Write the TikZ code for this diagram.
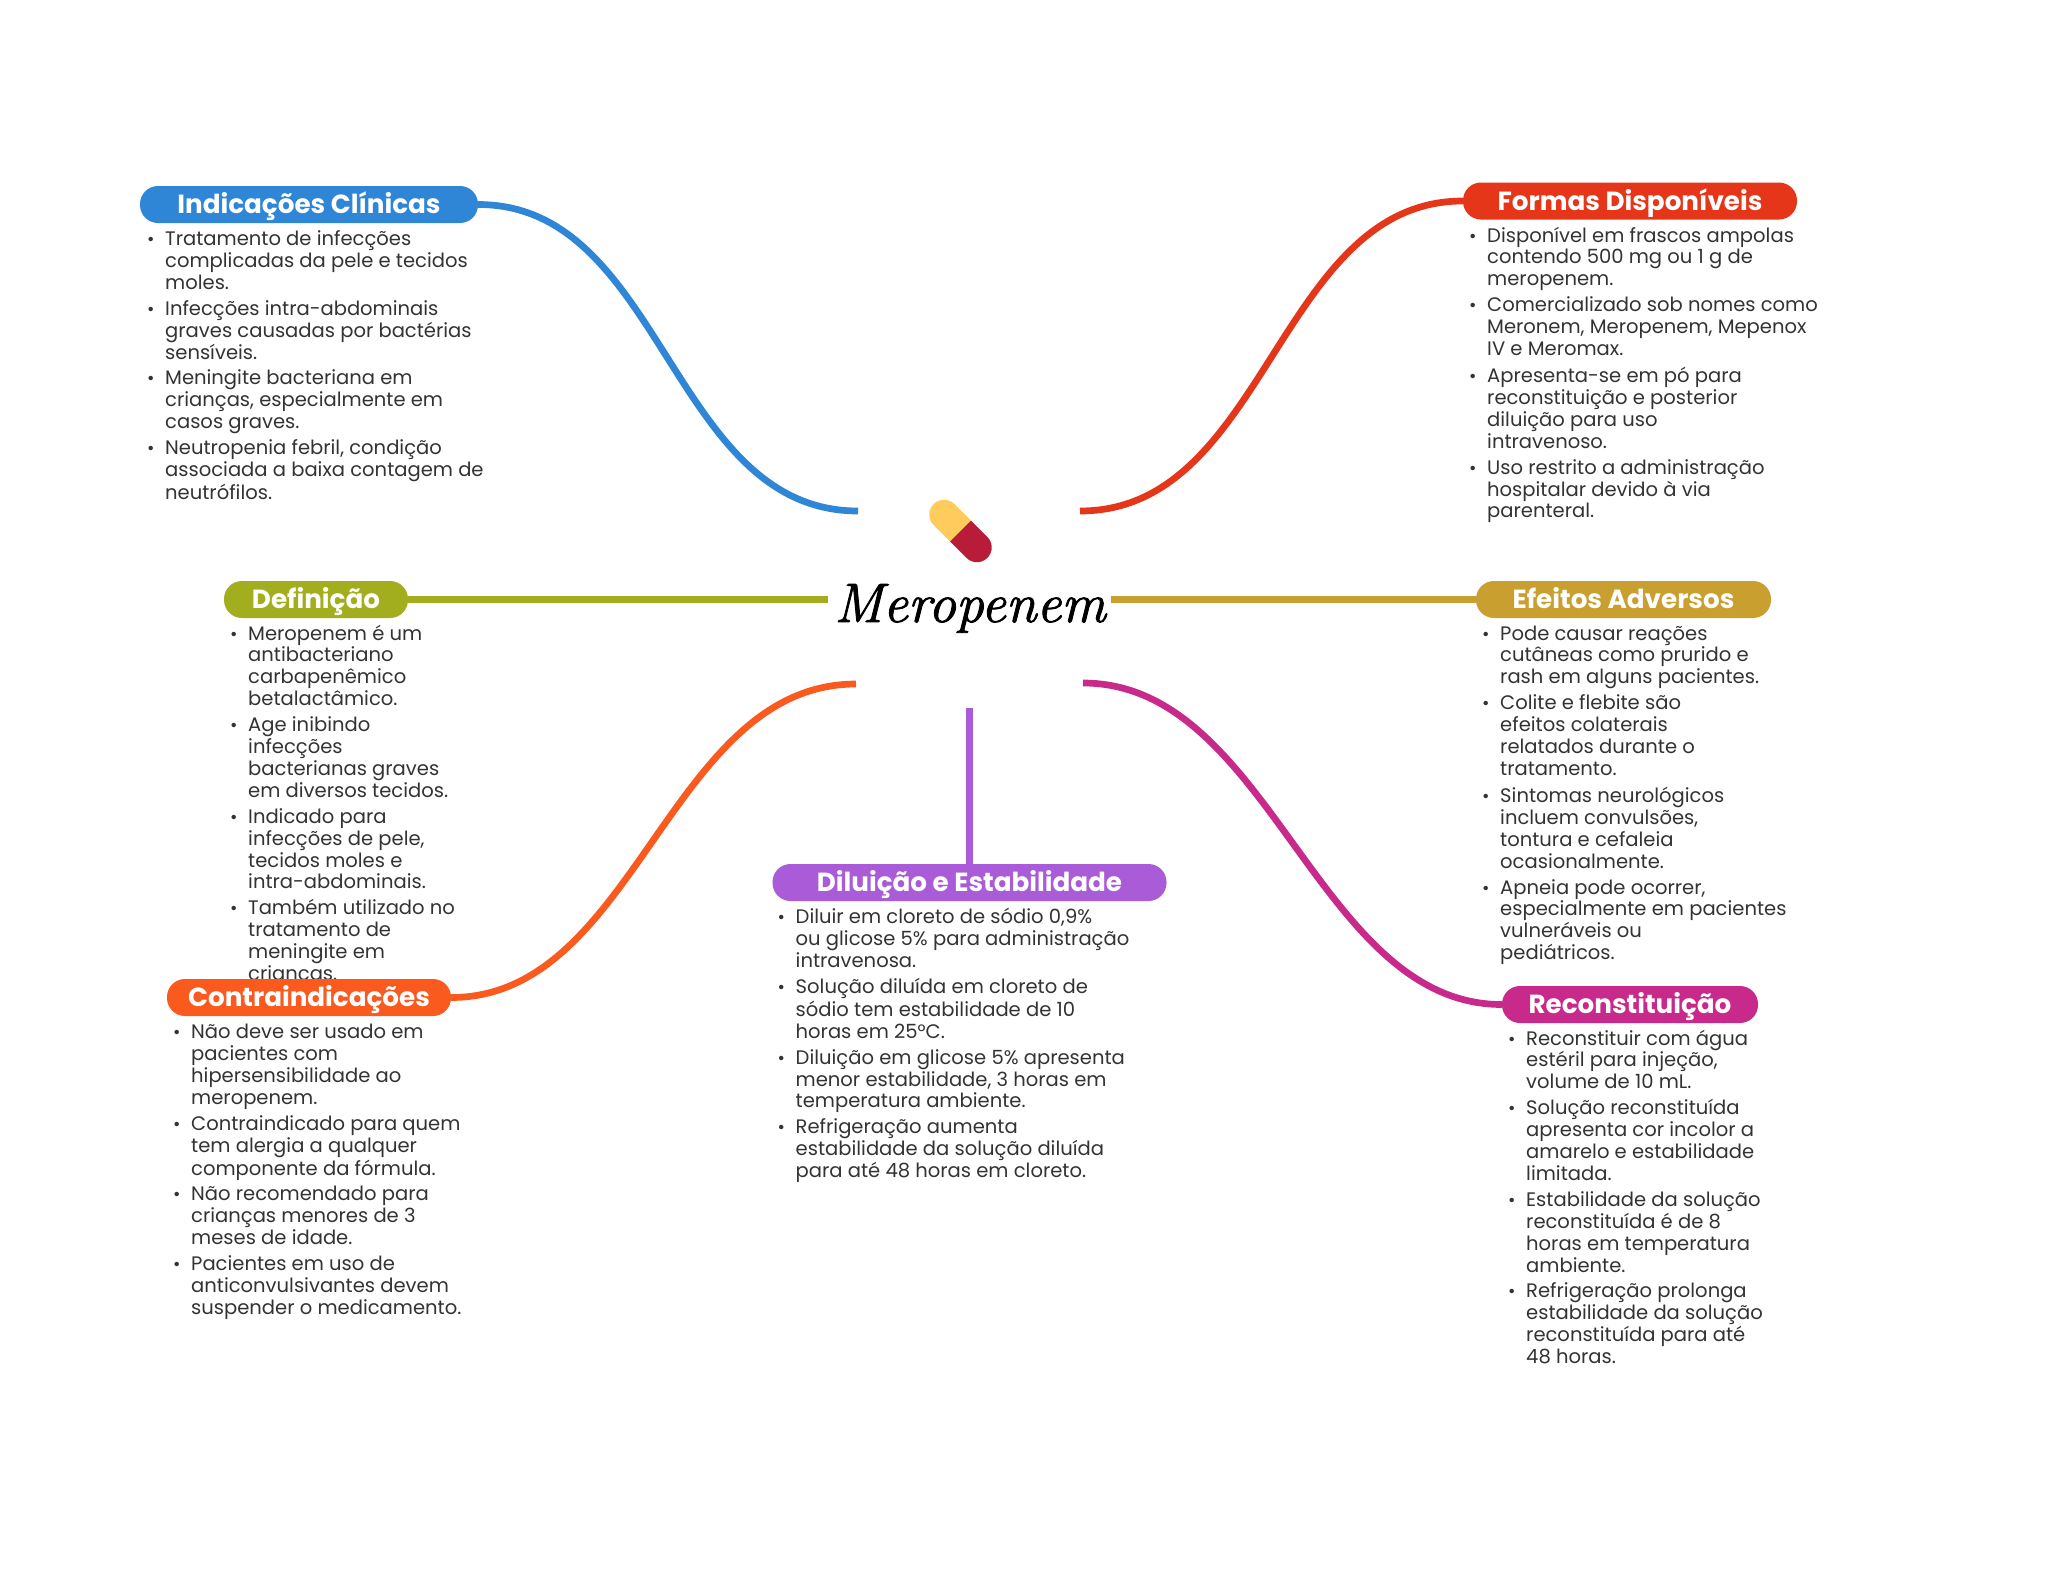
\documentclass[tikz,border=0pt]{standalone}
\usepackage{fontspec}
\setmainfont{Poppins}
\newfontfamily\titlefont[ItalicFeatures={FakeBold=1.6}]{Latin Modern Roman}
\newcommand{\bl}{\strut\makebox[20pt][l]{\hspace*{2pt}\fontsize{18}{18}\selectfont •}}
\newcommand{\ct}{\strut\hspace*{20pt}}
\definecolor{cblue}{HTML}{3086D6}
\definecolor{cred}{HTML}{E6361A}
\definecolor{cgreen}{HTML}{A2AE1E}
\definecolor{cgold}{HTML}{C9A02F}
\definecolor{corange}{HTML}{FB5A1F}
\definecolor{cpurple}{HTML}{A95BD8}
\definecolor{cmag}{HTML}{C72A8B}
\definecolor{ctext}{HTML}{333333}
\tikzset{
  pill/.style={fill=#1,rounded corners=18pt,minimum height=37pt,inner sep=0pt,text=white,text height=21pt,text depth=3pt,font=\fontsize{26.2}{30}\selectfont\bfseries},
  branch/.style={draw=#1,line width=6.7pt},
  body/.style={anchor=north west,inner sep=0pt,align=left,text=ctext,font=\fontsize{19.55}{21.9}\selectfont}
}
\begin{document}
\begin{tikzpicture}[x=1pt,y=-1pt]
\useasboundingbox[fill=white] (0,0) rectangle (2048,1569);

% text blocks
\node[body] (tindic) at (145,230) {\bl Tratamento de infecções\\ \ct complicadas da pele e tecidos\\ \ct moles.\\[4pt]
\bl Infecções intra-abdominais\\ \ct graves causadas por bactérias\\ \ct sensíveis.\\[4pt]
\bl Meningite bacteriana em\\ \ct crianças, especialmente em\\ \ct casos graves.\\[4pt]
\bl Neutropenia febril, condição\\ \ct associada a baixa contagem de\\ \ct neutrófilos.};
\node[body] (tformas) at (1467,226.5) {\bl Disponível em frascos ampolas\\ \ct contendo 500 mg ou 1 g de\\ \ct meropenem.\\[4pt]
\bl Comercializado sob nomes como\\ \ct Meronem, Meropenem, Mepenox\\ \ct IV e Meromax.\\[4pt]
\bl Apresenta-se em pó para\\ \ct reconstituição e posterior\\ \ct diluição para uso\\ \ct intravenoso.\\[4pt]
\bl Uso restrito a administração\\ \ct hospitalar devido à via\\ \ct parenteral.};
\node[body] (tdef) at (228,624.5) {\bl Meropenem é um\\ \ct antibacteriano\\ \ct carbapenêmico\\ \ct betalactâmico.\\[4pt]
\bl Age inibindo\\ \ct infecções\\ \ct bacterianas graves\\ \ct em diversos tecidos.\\[4pt]
\bl Indicado para\\ \ct infecções de pele,\\ \ct tecidos moles e\\ \ct intra-abdominais.\\[4pt]
\bl Também utilizado no\\ \ct tratamento de\\ \ct meningite em\\ \ct crianças.};
\node[body] (tefe) at (1480,624.5) {\bl Pode causar reações\\ \ct cutâneas como prurido e\\ \ct rash em alguns pacientes.\\[4pt]
\bl Colite e flebite são\\ \ct efeitos colaterais\\ \ct relatados durante o\\ \ct tratamento.\\[4pt]
\bl Sintomas neurológicos\\ \ct incluem convulsões,\\ \ct tontura e cefaleia\\ \ct ocasionalmente.\\[4pt]
\bl Apneia pode ocorrer,\\ \ct especialmente em pacientes\\ \ct vulneráveis ou\\ \ct pediátricos.};
\node[body] (tcontra) at (171,1023) {\bl Não deve ser usado em\\ \ct pacientes com\\ \ct hipersensibilidade ao\\ \ct meropenem.\\[4pt]
\bl Contraindicado para quem\\ \ct tem alergia a qualquer\\ \ct componente da fórmula.\\[4pt]
\bl Não recomendado para\\ \ct crianças menores de 3\\ \ct meses de idade.\\[4pt]
\bl Pacientes em uso de\\ \ct anticonvulsivantes devem\\ \ct suspender o medicamento.};
\node[body] (tdil) at (775.5,908) {\bl Diluir em cloreto de sódio 0,9\%\\ \ct ou glicose 5\% para administração\\ \ct intravenosa.\\[4pt]
\bl Solução diluída em cloreto de\\ \ct sódio tem estabilidade de 10\\ \ct horas em 25°C.\\[4pt]
\bl Diluição em glicose 5\% apresenta\\ \ct menor estabilidade, 3 horas em\\ \ct temperatura ambiente.\\[4pt]
\bl Refrigeração aumenta\\ \ct estabilidade da solução diluída\\ \ct para até 48 horas em cloreto.};
\node[body] (trec) at (1506,1029.5) {\bl Reconstituir com água\\ \ct estéril para injeção,\\ \ct volume de 10 mL.\\[4pt]
\bl Solução reconstituída\\ \ct apresenta cor incolor a\\ \ct amarelo e estabilidade\\ \ct limitada.\\[4pt]
\bl Estabilidade da solução\\ \ct reconstituída é de 8\\ \ct horas em temperatura\\ \ct ambiente.\\[4pt]
\bl Refrigeração prolonga\\ \ct estabilidade da solução\\ \ct reconstituída para até\\ \ct 48 horas.};

% pills
\node[pill=cblue,minimum width=338pt] (indic) at (309,204.5) {Indicações Clínicas};
\node[pill=cred,minimum width=334pt] (formas) at (1630,201) {Formas Disponíveis};
\node[pill=cgreen,minimum width=184pt] (def) at (316,599.5) {Definição};
\node[pill=cgold,minimum width=295pt] (efe) at (1623.5,599.5) {Efeitos Adversos};
\node[pill=corange,minimum width=284pt] (contra) at (309,997.5) {Contraindicações};
\node[pill=cpurple,minimum width=394pt] (dil) at (969.5,882.5) {Diluição e Estabilidade};
\node[pill=cmag,minimum width=256pt] (rec) at (1630,1004.5) {Reconstituição};

% centre
\node[anchor=base,inner sep=0pt,font=\titlefont\itshape\fontsize{55.5}{60}\selectfont,text=black] (center) at (970,622) {Meropenem};
\begin{scope}[shift={(960.5,531)},rotate=-45]
\fill[color={rgb,255:red,254;green,203;blue,92}] (0,-14.75) [rounded corners=14.7pt] -- (-38,-14.75) -- (-38,14.75) [sharp corners] -- (0,14.75) -- cycle;
\fill[color={rgb,255:red,184;green,28;blue,56}] (0,-14.75) [rounded corners=14.7pt] -- (38,-14.75) -- (38,14.75) [sharp corners] -- (0,14.75) -- cycle;
\end{scope}

% free ends at the centre
\coordinate (eblue) at (858,511);
\coordinate (ered) at (1080,511);
\coordinate (egreen) at (828,599.5);
\coordinate (egold) at (1111,599.5);
\coordinate (eorange) at (856,684);
\coordinate (emag) at (1083,683);
\coordinate (epurple) at (969.5,708);

% connectors
\draw[branch=cblue] (indic.east) .. controls +(185,0) and +(-187,0) .. (eblue);
\draw[branch=cred] (formas.west) .. controls +(-185,0) and +(187,0) .. (ered);
\draw[branch=cgreen] (def.east) -- (egreen);
\draw[branch=cgold] (efe.west) -- (egold);
\draw[branch=corange] (contra.east) .. controls +(185,0) and +(-187,0) .. (eorange);
\draw[branch=cmag] (rec.west) .. controls +(-185,0) and +(187,0) .. (emag);
\draw[branch=cpurple] (dil.north) -- (epurple);
\end{tikzpicture}
\end{document}
